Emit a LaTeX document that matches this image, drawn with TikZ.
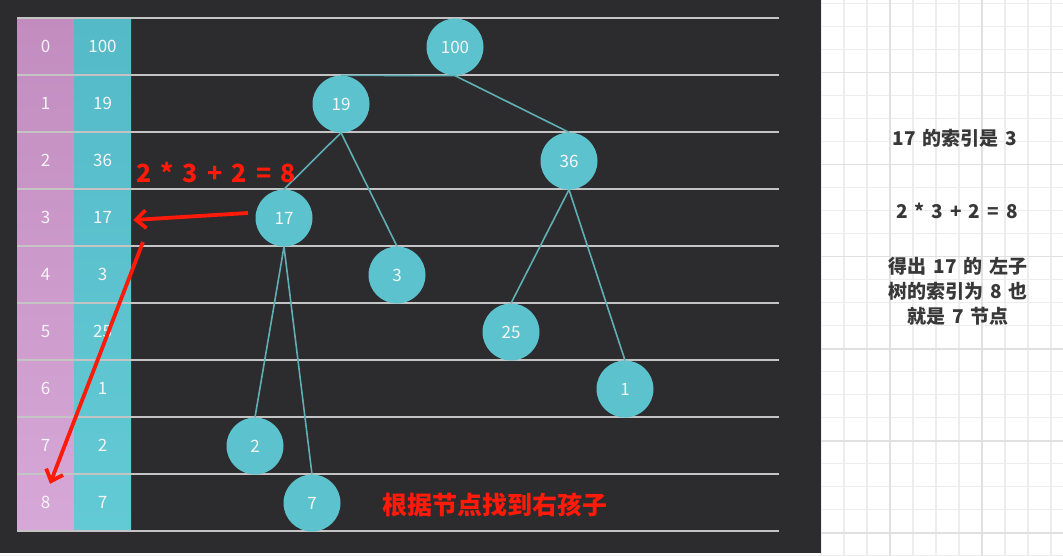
\documentclass[tikz,border=0pt]{standalone}
\usepackage{fontspec}
\setmainfont{Noto Sans CJK SC}[WordSpace=1.6]
\usetikzlibrary{arrows.meta}

\definecolor{panelbg}{HTML}{2C2B2D}
\definecolor{rowline}{HTML}{C4C4C4}
\definecolor{idxtop}{HTML}{C28CBF}
\definecolor{idxbot}{HTML}{D6A8D7}
\definecolor{valtop}{HTML}{55BAC8}
\definecolor{valbot}{HTML}{62CAD5}
\definecolor{nodecyan}{HTML}{5CC3CE}
\definecolor{edgeteal}{HTML}{5FAFB4}
\definecolor{hintred}{HTML}{FF1A0A}
\definecolor{gridminor}{HTML}{EDEDED}
\definecolor{gridmajor}{HTML}{E0E0E0}
\definecolor{notegray}{HTML}{383838}

\begin{document}
\begin{tikzpicture}[x=1pt,y=-1pt,
  heapnode/.style={circle,fill=nodecyan,minimum size=57pt,inner sep=0pt,text=white!92!gray,font=\fontsize{17}{17}\selectfont},
  cell/.style={minimum width=57pt,minimum height=57pt,inner sep=0pt,text=white!92!gray,font=\fontsize{17}{17}\selectfont},
  edge/.style={draw=edgeteal,line width=1.6pt},
  hint/.style={draw=hintred,line width=3.8pt,-{Straight Barb[length=10pt,width=18pt]}},
  redtext/.style={text=hintred,font=\fontsize{25}{25}\selectfont\bfseries},
  note/.style={text=notegray,align=center,font=\fontsize{19}{25}\selectfont\bfseries}]
  \useasboundingbox (0,0) rectangle (1063,556);

  % grid paper on the right
  \fill[white] (0,0) rectangle (1063,556);
  \foreach \colx in {0,...,10}
    \draw[gridminor,line width=1.2pt] (821+23*\colx,0) -- (821+23*\colx,556);
  \foreach \rowy in {0,...,24}
    \draw[gridminor,line width=1.2pt] (0,3.7+23*\rowy) -- (1063,3.7+23*\rowy);
  \draw[gridmajor,line width=1.6pt] (890,0) -- (890,556) (982,0) -- (982,556);
  \foreach \rowy in {0,...,5}
    \draw[gridmajor,line width=1.6pt] (0,72.7+92*\rowy) -- (1063,72.7+92*\rowy);

  % dark panel with the array
  \fill[panelbg] (0,0) rectangle (821,553);
  \shade[top color=idxtop,bottom color=idxbot] (17,18) rectangle (74,531);
  \shade[top color=valtop,bottom color=valbot] (74,18) rectangle (131,531);
  \foreach \i in {0,...,9} \draw[rowline,line width=2pt] (17,18+57*\i) -- (779,18+57*\i);
  \foreach \v [count=\i from 0] in {100,19,36,17,3,25,1,2,7} {
    \node[cell] (i\i) at (45.5,46.5+57*\i) {\i};
    \node[cell] (v\i) at (102.5,46.5+57*\i) {\v};
  }

  % the heap as a tree
  \node[heapnode] (n100) at (455,47) {100};
  \node[heapnode] (n19) at (341,104) {19};
  \node[heapnode] (n36) at (569,161) {36};
  \node[heapnode] (n17) at (284,218) {17};
  \node[heapnode] (n3) at (397,275) {3};
  \node[heapnode] (n25) at (511,332) {25};
  \node[heapnode] (n1) at (625,389) {1};
  \node[heapnode] (n2) at (255,446) {2};
  \node[heapnode] (n7) at (312,503) {7};
  \draw[edge] (n100.south) -- (n19.north);
  \draw[edge] (n100.south) -- (n36.north);
  \draw[edge] (n19.south) -- (n17.north);
  \draw[edge] (n19.south) -- (n3.north);
  \draw[edge] (n36.south) -- (n25.north);
  \draw[edge] (n36.south) -- (n1.north);
  \draw[edge] (n17.south) -- (n2.north);
  \draw[edge] (n17.south) -- (n7.north);

  % red hints
  \node[redtext] (formula) at (216,172) {2 * 3 + 2 = 8};
  \node[redtext] (rightchild) at (495,505) {根据节点找到右孩子};
  \coordinate (from17) at (248,213);
  \coordinate (below17) at (143,242);
  \draw[hint] (from17) -- ([shift={(2,2.5)}]v3.east);
  \draw[hint] (below17) -- ([shift={(4.5,10)}]i8.north);

  % notes
  \node[note] (idxnote) at (955,138) {17 的索引是 3};
  \node[note] (calcnote) at (957,211) {2 * 3 + 2 = 8};
  \node[note] (resnote) at (958,291) {得出 17 的 左子\\树的索引为 8 也\\就是 7 节点};
\end{tikzpicture}
\end{document}
